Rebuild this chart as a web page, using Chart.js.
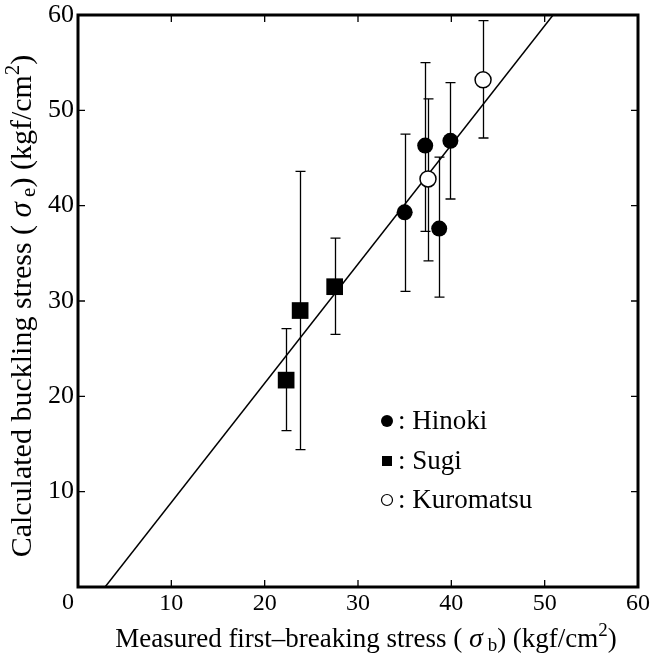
<!DOCTYPE html>
<html><head><meta charset="utf-8">
<script src="https://cdn.jsdelivr.net/npm/chart.js@4"></script>
<style>html,body{margin:0;padding:0;background:#fff}#wrap{width:654px;height:661px}</style>
</head><body><div id="wrap"><canvas id="c" width="654" height="661"></canvas></div>
<script>
// ---- data ----
const hinokiX    = [37.2, 39.9, 35.0, 38.7];
const hinokiY    = [46.3, 46.8, 39.3, 37.6];
const hinokiLow  = [37.3, 40.7, 31.0, 30.4];
const hinokiHigh = [55.0, 52.9, 47.5, 45.1];

const sugiX    = [22.3, 23.8, 27.5];
const sugiY    = [21.7, 29.0, 31.5];
const sugiLow  = [16.4, 14.4, 26.5];
const sugiHigh = [27.1, 43.6, 36.6];

const kuroX    = [37.5, 43.4];
const kuroY    = [42.8, 53.2];
const kuroLow  = [34.2, 47.1];
const kuroHigh = [51.2, 59.4];

const fitX = [2.9, 50.9];
const fitY = [0, 60];

const xTicks = [0, 10, 20, 30, 40, 50, 60];
const yTicks = [0, 10, 20, 30, 40, 50, 60];
const originLabel = '0';
const legendLabels = ['Hinoki', 'Sugi', 'Kuromatsu'];

const FONT = "'Liberation Serif', 'Times New Roman', serif";

function pts(X, Y) { return X.map((x, i) => ({ x: x, y: Y[i] })); }

function drawRich(ctx, segs, cx, cy, rotate) {
  ctx.save();
  ctx.translate(cx, cy);
  if (rotate) ctx.rotate(-Math.PI / 2);
  let total = 0;
  segs.forEach(s => { ctx.font = s.f; s.w = ctx.measureText(s.t).width; total += s.w; });
  let x = -total / 2;
  ctx.textBaseline = 'middle';
  ctx.textAlign = 'left';
  ctx.fillStyle = '#000';
  segs.forEach(s => { ctx.font = s.f; ctx.fillText(s.t, x, s.dy || 0); x += s.w; });
  ctx.restore();
}

const deco = {
  id: 'deco',
  beforeDatasetsDraw(chart) {
    const ctx = chart.ctx, xs = chart.scales.x, ys = chart.scales.y;
    ctx.save();
    ctx.strokeStyle = '#000';
    ctx.lineWidth = 1.3;
    const groups = [[hinokiX, hinokiLow, hinokiHigh], [sugiX, sugiLow, sugiHigh], [kuroX, kuroLow, kuroHigh]];
    groups.forEach(([X, L, H]) => {
      X.forEach((xv, i) => {
        const px = Math.round(xs.getPixelForValue(xv)) + 0.5;
        const pl = ys.getPixelForValue(L[i]);
        const ph = ys.getPixelForValue(H[i]);
        ctx.beginPath();
        ctx.moveTo(px, pl); ctx.lineTo(px, ph);
        ctx.moveTo(px - 5, pl); ctx.lineTo(px + 5, pl);
        ctx.moveTo(px - 5, ph); ctx.lineTo(px + 5, ph);
        ctx.stroke();
      });
    });
    ctx.restore();
  },
  afterDraw(chart) {
    const ctx = chart.ctx, xs = chart.scales.x, ys = chart.scales.y;
    const a = chart.chartArea;
    ctx.save();
    // inward tick marks on all four sides
    ctx.strokeStyle = '#000';
    ctx.lineWidth = 1.3;
    ctx.beginPath();
    xTicks.forEach(v => {
      const px = xs.getPixelForValue(v);
      ctx.moveTo(px, a.bottom); ctx.lineTo(px, a.bottom - 7);
      ctx.moveTo(px, a.top); ctx.lineTo(px, a.top + 7);
    });
    yTicks.forEach(v => {
      const py = ys.getPixelForValue(v);
      ctx.moveTo(a.left, py); ctx.lineTo(a.left + 7, py);
      ctx.moveTo(a.right, py); ctx.lineTo(a.right - 7, py);
    });
    ctx.stroke();
    // frame
    ctx.lineWidth = 3;
    ctx.strokeRect(a.left, a.top, a.right - a.left, a.bottom - a.top);

    // shared origin label below-left of the corner
    ctx.fillStyle = '#000';
    ctx.font = '24px ' + FONT;
    ctx.textAlign = 'center';
    ctx.textBaseline = 'middle';
    ctx.fillText(originLabel, a.left - 10, a.bottom + 16);

    // legend
    const lx = 387, ly = [421, 461, 500];
    ctx.beginPath(); ctx.arc(lx, ly[0], 6, 0, Math.PI * 2); ctx.fill();
    ctx.fillRect(lx - 5, ly[1] - 5, 10, 10);
    ctx.lineWidth = 1.2;
    ctx.beginPath(); ctx.arc(lx, ly[2], 5.5, 0, Math.PI * 2); ctx.stroke();
    ctx.font = '27px ' + FONT;
    ctx.textBaseline = 'alphabetic';
    ctx.textAlign = 'left';
    legendLabels.forEach((t, i) => ctx.fillText(': ' + t, 398, ly[i] + 8));

    // axis titles
    drawRich(ctx, [
      { t: 'Measured first\u2013breaking stress ( ', f: '27px ' + FONT },
      { t: '\u03C3', f: 'italic 28px ' + FONT },
      { t: ' b', f: '19px ' + FONT, dy: 6 },
      { t: ') (kgf/cm', f: '27px ' + FONT },
      { t: '2', f: '19px ' + FONT, dy: -9 },
      { t: ')', f: '27px ' + FONT }
    ], 366, 640, false);
    drawRich(ctx, [
      { t: 'Calculated buckling stress ( ', f: '30px ' + FONT },
      { t: '\u03C3', f: 'italic 31px ' + FONT },
      { t: ' e', f: '21px ' + FONT, dy: 6 },
      { t: ') (kgf/cm', f: '30px ' + FONT },
      { t: '2', f: '21px ' + FONT, dy: -10 },
      { t: ')', f: '30px ' + FONT }
    ], 23, 306, true);
    ctx.restore();
  }
};

new Chart(document.getElementById('c'), {
  type: 'scatter',
  data: {
    datasets: [
      { label: 'Kuromatsu', data: pts(kuroX, kuroY), pointStyle: 'circle', pointRadius: 8,
        backgroundColor: '#fff', borderColor: '#000', borderWidth: 1.5 },
      { label: 'Hinoki', data: pts(hinokiX, hinokiY), pointStyle: 'circle', pointRadius: 8,
        backgroundColor: '#000', borderColor: '#000', borderWidth: 0 },
      { label: 'Sugi', data: pts(sugiX, sugiY), pointStyle: 'rect', pointRadius: 11.8,
        backgroundColor: '#000', borderColor: '#000', borderWidth: 0 },
      { label: 'fit', type: 'line', data: pts(fitX, fitY), showLine: true, pointRadius: 0,
        borderColor: '#000', borderWidth: 1.5, fill: false }
    ]
  },
  options: {
    responsive: false,
    animation: false,
    devicePixelRatio: 1,
    layout: { padding: { top: 15, right: 16, left: 0, bottom: 0 } },
    plugins: { legend: { display: false }, tooltip: { enabled: false } },
    scales: {
      x: {
        type: 'linear', min: 0, max: 60,
        afterBuildTicks: s => { s.ticks = xTicks.map(v => ({ value: v })); },
        afterFit: s => { s.height = 74; s.paddingLeft = 0; s.paddingRight = 0; },
        ticks: { font: { family: FONT, size: 24 }, color: '#000', padding: 2, maxRotation: 0,
                 callback: v => (v === 0 ? '' : String(v)) },
        grid: { display: false, drawTicks: false },
        border: { display: false }
      },
      y: {
        type: 'linear', min: 0, max: 60,
        afterBuildTicks: s => { s.ticks = yTicks.map(v => ({ value: v })); },
        afterFit: s => { s.width = 78; s.paddingTop = 0; s.paddingBottom = 0; },
        ticks: { font: { family: FONT, size: 26 }, color: '#000', padding: 4,
                 callback: v => (v === 0 ? '' : String(v)) },
        grid: { display: false, drawTicks: false },
        border: { display: false }
      }
    }
  },
  plugins: [deco]
});
</script>
</body></html>
